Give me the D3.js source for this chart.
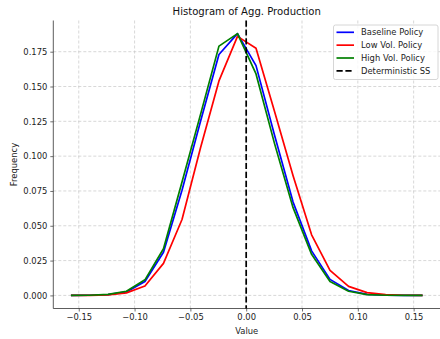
<!DOCTYPE html>
<html>
<head>
<meta charset="utf-8">
<script src="https://cdn.jsdelivr.net/npm/d3@7"></script>
<style>
  html, body { margin: 0; padding: 0; background: #fff; }
  svg { display: block; font-family: "DejaVu Sans", sans-serif; }
</style>
</head>
<body>
<svg id="chart" width="440" height="339"></svg>
<script>
// Bin centres of the aggregate-production histogram (log deviation from SS)
const binCenters = [-0.1570, -0.1404, -0.1238, -0.1073, -0.0907, -0.0741, -0.0575, -0.0409, -0.0244, -0.0078,
                     0.0088,  0.0254,  0.0420,  0.0586,  0.0751,  0.0917,  0.1083,  0.1249,  0.1415,  0.1580];

// Relative frequencies per policy
const baselineFreq = [0.0000, 0.0001, 0.0006, 0.0025, 0.0100, 0.0310, 0.0755, 0.1250, 0.1730, 0.1880,
                      0.1650, 0.1150, 0.0670, 0.0320, 0.0115, 0.0035, 0.0008, 0.0002, 0.0000, 0.0000];
const lowVolFreq   = [0.0000, 0.0000, 0.0004, 0.0018, 0.0068, 0.0230, 0.0545, 0.1060, 0.1540, 0.1860,
                      0.1775, 0.1320, 0.0860, 0.0435, 0.0180, 0.0065, 0.0020, 0.0005, 0.0001, 0.0000];
const highVolFreq  = [0.0000, 0.0001, 0.0007, 0.0030, 0.0112, 0.0335, 0.0815, 0.1300, 0.1790, 0.1880,
                      0.1590, 0.1090, 0.0630, 0.0295, 0.0100, 0.0030, 0.0006, 0.0001, 0.0000, 0.0000];

const seriesNames  = ["Baseline Policy", "Low Vol. Policy", "High Vol. Policy"];
const seriesColors = ["#0000ff", "#ff0000", "#008000"];
const steadyState  = 0.0;

const xTicks = [-0.15, -0.10, -0.05, 0.00, 0.05, 0.10, 0.15];
const yTicks = [0.000, 0.025, 0.050, 0.075, 0.100, 0.125, 0.150, 0.175];

(function draw() {
  const svg = d3.select("#chart");
  const mL = 53.3, mR = 440.2, mT = 20.5, mB = 308.5;

  const x = d3.scaleLinear().domain([-0.1728, 0.1738]).range([mL, mR]);
  const y = d3.scaleLinear().domain([-0.0094, 0.1974]).range([mB, mT]);

  const fmt = v => (v < 0 ? "\u2212" : "") + Math.abs(v).toFixed(2);

  // grid
  const grid = svg.append("g").attr("stroke", "#b0b0b0").attr("stroke-width", 0.7)
    .attr("stroke-dasharray", "3,2").attr("opacity", 0.7);
  xTicks.forEach(t => grid.append("line").attr("x1", x(t)).attr("x2", x(t)).attr("y1", mT).attr("y2", mB));
  yTicks.forEach(t => grid.append("line").attr("x1", mL).attr("x2", mR).attr("y1", y(t)).attr("y2", y(t)));

  // axes
  const xAxis = d3.axisBottom(x).tickValues(xTicks).tickFormat(fmt).tickSize(3).tickPadding(3);
  const yAxis = d3.axisLeft(y).tickValues(yTicks).tickFormat(d3.format(".3f")).tickSize(3).tickPadding(3);

  const gx = svg.append("g").attr("transform", `translate(0,${mB})`).call(xAxis);
  const gy = svg.append("g").attr("transform", `translate(${mL},0)`).call(yAxis);
  [gx, gy].forEach(g => {
    g.selectAll("text").attr("font-size", 8.4).attr("fill", "#222").attr("font-family", "DejaVu Sans");
    g.selectAll("line").attr("stroke", "#333").attr("stroke-width", 0.7);
    g.select(".domain").attr("stroke", "#333").attr("stroke-width", 0.8);
  });
  gx.select(".domain").attr("d", `M${mL},0H${mR}`);
  gy.select(".domain").attr("d", `M0,${mB}V${mT}`);

  // lines
  const allSeries = [baselineFreq, lowVolFreq, highVolFreq];
  const line = d3.line().x((d, i) => x(binCenters[i])).y(d => y(d));
  allSeries.forEach((s, k) => {
    svg.append("path").datum(s).attr("d", line).attr("fill", "none")
      .attr("stroke", seriesColors[k]).attr("stroke-width", 1.7).attr("stroke-linejoin", "round");
  });

  // steady state marker
  svg.append("line").attr("x1", x(steadyState)).attr("x2", x(steadyState))
    .attr("y1", mT).attr("y2", mB)
    .attr("stroke", "#000").attr("stroke-width", 1.7).attr("stroke-dasharray", "6.2,2.7");

  // title and labels
  svg.append("text").attr("x", (mL + mR) / 2).attr("y", 15).attr("text-anchor", "middle")
    .attr("font-size", 10.1).attr("fill", "#111").text("Histogram of Agg. Production");
  svg.append("text").attr("x", (mL + mR) / 2).attr("y", 334).attr("text-anchor", "middle")
    .attr("font-size", 8.4).attr("fill", "#222").text("Value");
  svg.append("text").attr("transform", `translate(17,${(mT + mB) / 2}) rotate(-90)`)
    .attr("text-anchor", "middle").attr("font-size", 8.4).attr("fill", "#222").text("Frequency");

  // legend
  const lg = svg.append("g").attr("transform", "translate(333.5,25)");
  lg.append("rect").attr("width", 104.5).attr("height", 54.5).attr("rx", 2)
    .attr("fill", "#fff").attr("fill-opacity", 0.8).attr("stroke", "#cccccc").attr("stroke-width", 0.8);
  const entries = seriesNames.map((n, k) => ({ name: n, color: seriesColors[k], dash: null }))
    .concat([{ name: "Deterministic SS", color: "#000", dash: "6.2,2.7" }]);
  entries.forEach((e, i) => {
    const cy = 7.3 + i * 12.85;
    lg.append("line").attr("x1", 3).attr("x2", 20.5).attr("y1", cy).attr("y2", cy)
      .attr("stroke", e.color).attr("stroke-width", 1.7).attr("stroke-dasharray", e.dash);
    lg.append("text").attr("x", 27.5).attr("y", cy + 3).attr("font-size", 8.4).attr("fill", "#222").text(e.name);
  });
})();
</script>
</body>
</html>
